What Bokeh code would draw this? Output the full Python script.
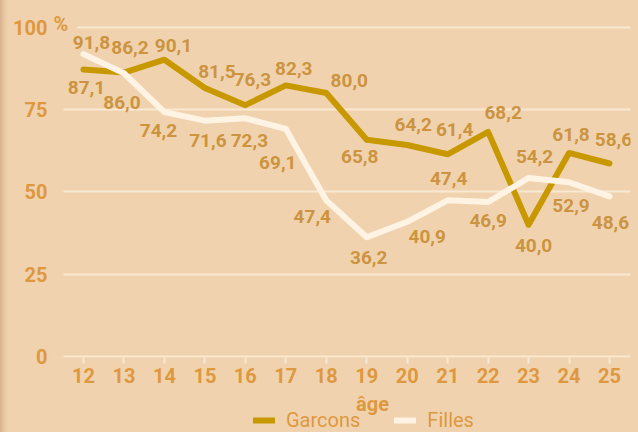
from bokeh.plotting import figure
from bokeh.layouts import column
from bokeh.models import (BoxAnnotation, ColumnDataSource, FixedTicker, Label, Legend, LegendItem,
                          Range1d)
from bokeh.core.properties import value
from bokeh.embed import file_html
from bokeh.resources import INLINE

# ---- data ----
ages = [12, 13, 14, 15, 16, 17, 18, 19, 20, 21, 22, 23, 24, 25]
garcons = [87.1, 86.2, 90.1, 81.5, 76.3, 82.3, 80.0, 65.8, 64.2, 61.4, 68.2, 40.0, 61.8, 58.6]
filles = [91.8, 86.0, 74.2, 71.6, 72.3, 69.1, 47.4, 36.2, 40.9, 47.4, 46.9, 54.2, 52.9, 48.6]
y_ticks = [0, 25, 50, 75, 100]
x_label = "âge"
series_names = ["Garcons", "Filles"]

# ---- label placement (screen pixel offsets, positive dy = downwards) ----
garcons_dx = [3, 6, 9, 12, 7, 8, 23, -7, 6, 7, 15, 5, 2, 4]
garcons_dy = [18, -25, -14, -17, -26, -17, -12, 17, -21, -25, -19, 21, -18, -24]
filles_dx = [8, -2, -6, 3, 4, -8, -14, 2, 20, 1, 0, 6, 2, 1]
filles_dy = [-12, 29, 18, 20, 22, 34, 16, 20, 15, -22, 18, -21, 23, 26]

BG = "#F0D3AE"
GRID = "#FAE9D2"
GOLD = "#C89800"
WHITE = "#FFF3E4"
TICK = "#DE9840"
LAB = "#CC9440"
FONT = "Roboto"
EDGE = {"background": "linear-gradient(to right, #D5B18C 0px, #E6C7A1 4px, #F0D3AE 8px, #F0D3AE 100%)"}

X_START, X_END, GRID_START = 11.2585, 25.519, 11.506
Y_START, Y_END = -0.3, 105.04


def fmt(v):
    return f"{v:.1f}".replace(".", ",")


# ================= main chart =================
p = figure(width=638, height=392, output_backend="svg", toolbar_location=None,
           x_range=Range1d(X_START, X_END), y_range=Range1d(Y_START, Y_END),
           min_border_left=53, min_border_right=8, min_border_top=10, min_border_bottom=35,
           background_fill_color=BG, border_fill_color=None, outline_line_color=None)
p.styles = EDGE

p.xgrid.visible = False
p.ygrid.ticker = FixedTicker(ticks=y_ticks)
p.ygrid.grid_line_color = GRID
p.ygrid.grid_line_width = 2

# grid lines start a little to the right of the frame edge
p.add_layout(BoxAnnotation(right=GRID_START, fill_color=BG, fill_alpha=1, line_color=None,
                           level="underlay"))

p.xaxis.ticker = FixedTicker(ticks=ages)
p.xaxis.axis_line_color = None
p.xaxis.major_tick_line_color = GRID
p.xaxis.major_tick_line_width = 2
p.xaxis.major_tick_out = 6
p.xaxis.major_tick_in = 0
p.xaxis.minor_tick_line_color = None
p.xaxis.major_label_text_font = FONT
p.xaxis.major_label_text_font_style = "bold"
p.xaxis.major_label_text_font_size = "20px"
p.xaxis.major_label_text_color = TICK
p.xaxis.major_label_standoff = 4

p.yaxis.ticker = FixedTicker(ticks=y_ticks)
p.yaxis.axis_line_color = None
p.yaxis.major_tick_line_color = None
p.yaxis.minor_tick_line_color = None
p.yaxis.major_tick_out = 0
p.yaxis.major_tick_in = 0
p.yaxis.major_label_standoff = 6
p.yaxis.major_label_text_font = FONT
p.yaxis.major_label_text_font_style = "bold"
p.yaxis.major_label_text_font_size = "20px"
p.yaxis.major_label_text_color = TICK

# "%" next to the 100 tick (its background hides the start of the top grid line)
pct = Label(x=X_START, y=100, text="%", text_align="left", text_baseline="middle",
            x_offset=-9, y_offset=3, text_font=FONT, text_font_style="bold",
            text_font_size="20px", text_color=TICK, background_fill_color=BG, padding=9,
            level="underlay")
p.add_layout(pct)

g_src = ColumnDataSource(dict(x=ages, y=garcons, t=[fmt(v) for v in garcons],
                              dx=garcons_dx, dy=garcons_dy))
f_src = ColumnDataSource(dict(x=ages, y=filles, t=[fmt(v) for v in filles],
                              dx=filles_dx, dy=filles_dy))

line_g = dict(line_color=GOLD, line_width=6, line_join="round", line_cap="round")
line_f = dict(line_color=WHITE, line_width=6, line_join="round", line_cap="round")
p.line("x", "y", source=g_src, **line_g)
p.line("x", "y", source=f_src, **line_f)

for src in (g_src, f_src):
    p.text(x="x", y="y", text="t", x_offset="dx", y_offset="dy", source=src,
           text_font=value(FONT), text_font_style="bold", text_font_size="19px",
           text_color=LAB, text_align="center", text_baseline="middle")

# ================= axis title + legend strip =================
# (frame is aligned with the main chart's frame: 53 .. 630 px)
lf = figure(width=638, height=40, output_backend="svg", toolbar_location=None,
            x_range=Range1d(53, 630), y_range=Range1d(0, 40),
            x_axis_type=None, y_axis_type=None,
            min_border_left=0, min_border_right=0, min_border_top=0, min_border_bottom=0,
            background_fill_color=None, border_fill_color=None, outline_line_color=None)
lf.styles = EDGE
lf.grid.visible = False

lf.add_layout(Label(x=372, y=29, text=x_label, text_align="center", text_baseline="middle",
                    text_font=FONT, text_font_style="bold", text_font_size="20px",
                    text_color=TICK))

# legend swatches reuse the series (their data lie outside this strip's ranges)
kg = lf.line("x", "y", source=g_src, **line_g)
kf = lf.line("x", "y", source=f_src, **line_f)

legend = Legend(items=[LegendItem(label=series_names[0], renderers=[kg]),
                       LegendItem(label=series_names[1], renderers=[kf])],
                orientation="horizontal", location=(200, 0),
                background_fill_alpha=0, border_line_color=None,
                label_text_font=FONT, label_text_font_size="20px",
                label_text_color=TICK, glyph_width=22, glyph_height=20, label_height=20,
                label_standoff=11, spacing=34, padding=0, margin=0)
lf.add_layout(legend)

page = column(p, lf, spacing=0)

open("out.html", "w").write(file_html(page, INLINE))
